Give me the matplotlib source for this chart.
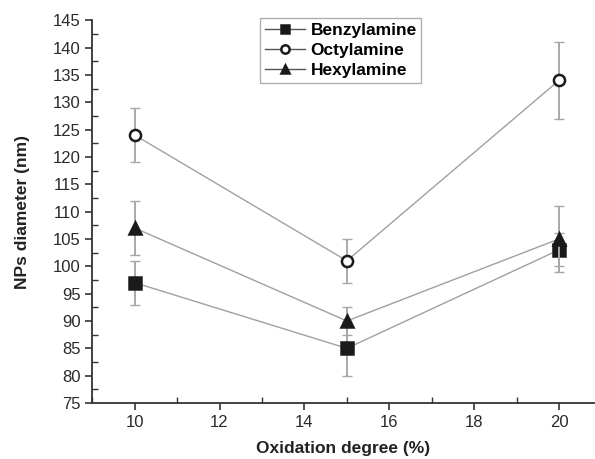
import matplotlib

matplotlib.use("Agg")
import matplotlib.pyplot as plt
from matplotlib.ticker import MultipleLocator

plt.rcParams["font.family"] = ["Liberation Sans", "DejaVu Sans"]

oxidation = [10, 15, 20]

benzyl = [97, 85, 103]
benzyl_err = [4, 5, 3]

octyl = [124, 101, 134]
octyl_err = [5, 4, 7]

hexyl = [107, 90, 105]
hexyl_err = [5, 2.5, 6]

series = [
    ("Benzylamine", benzyl, benzyl_err, "s", "#1a1a1a", 8),
    ("Octylamine", octyl, octyl_err, "o", "white", 8),
    ("Hexylamine", hexyl, hexyl_err, "^", "#1a1a1a", 9),
]

fig = plt.figure(figsize=(5.95, 4.59), dpi=100)
ax = fig.add_axes([0.155, 0.122, 0.843, 0.834])

for name, values, errs, marker, face, size in series:
    ax.errorbar(
        oxidation, values, yerr=errs, fmt="none",
        ecolor="#a8a8a8", elinewidth=1.4, capsize=3.5, capthick=1.0,
    )
    ax.plot(
        oxidation, values,
        color="#a0a0a0", lw=1.0,
        marker=marker, markersize=size, markerfacecolor=face,
        markeredgecolor="#1a1a1a", markeredgewidth=1.8,
        label=name,
    )

ax.set_xlim(9, 20.82)
ax.set_ylim(75, 145)
ax.xaxis.set_major_locator(MultipleLocator(2))
ax.xaxis.set_minor_locator(MultipleLocator(1))
ax.yaxis.set_major_locator(MultipleLocator(5))
ax.yaxis.set_minor_locator(MultipleLocator(2.5))

for side in ("top", "right"):
    ax.spines[side].set_visible(False)
for side in ("left", "bottom"):
    ax.spines[side].set_linewidth(1.3)
    ax.spines[side].set_color("#333333")

ax.tick_params(which="major", direction="out", length=5, width=1.2,
               colors="#333333", labelsize=12, labelcolor="#2a2a2a")
ax.tick_params(which="minor", direction="in", length=4, width=1.0, colors="#333333")

ax.set_xlabel("Oxidation degree (%)", fontsize=12.5, fontweight="bold",
              color="#222222", labelpad=8)
ax.set_ylabel("NPs diameter (nm)", fontsize=12.5, fontweight="bold",
              color="#222222", labelpad=16)

leg = ax.legend(loc="upper left", bbox_to_anchor=(0.335, 1.005),
                frameon=True, fancybox=False,
                prop={"weight": "bold", "size": 12.5},
                handlelength=2.3, handletextpad=0.35, borderpad=0.25,
                labelspacing=0.3, borderaxespad=0.0)
leg.get_frame().set_edgecolor("#999999")
leg.get_frame().set_linewidth(1.0)
for handle in leg.legend_handles:
    handle.set_markersize(6)
    handle.set_color("#555555")
    handle.set_markeredgecolor("#1a1a1a")

fig.savefig("out.png", dpi=100)
